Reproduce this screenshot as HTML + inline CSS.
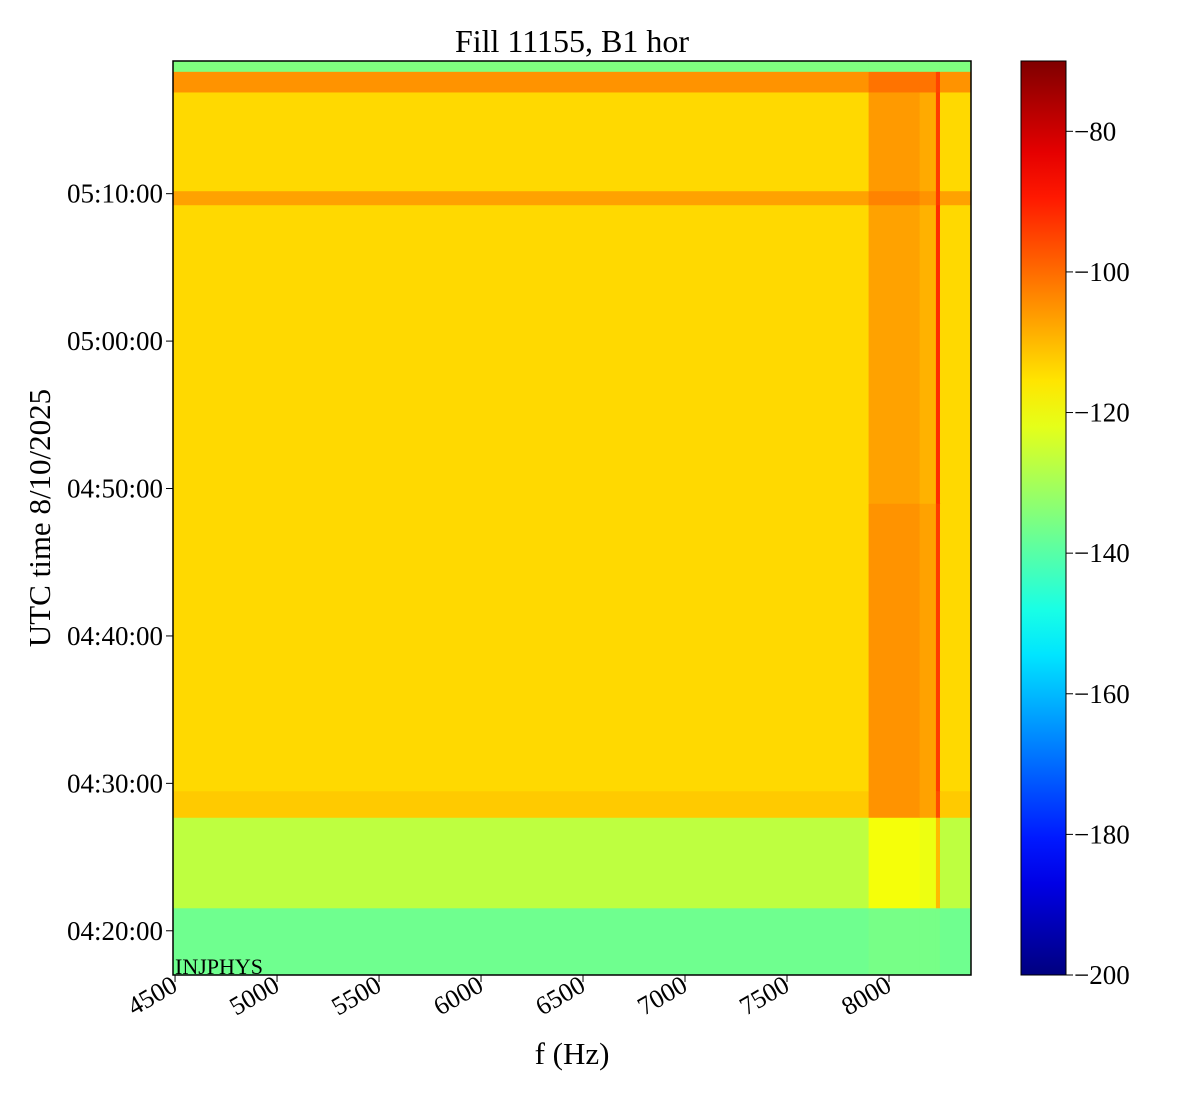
<!DOCTYPE html>
<html><head><meta charset="utf-8"><style>
body{margin:0;background:#fff;}
svg{display:block;font-family:"Liberation Serif",serif;}
</style></head><body>
<svg id="chart" width="1200" height="1100">
<text x="572" y="52" font-size="32" text-anchor="middle">Fill 11155, B1 hor</text>
<g id="cells"></g>
<g id="xaxis"></g>
<g id="yaxis"></g>
<rect x="173" y="61" width="798" height="914" fill="none" stroke="#000" stroke-width="1.5"/>
<text x="175" y="974" font-size="22">INJPHYS</text>
<text x="572" y="1064" font-size="31" text-anchor="middle">f (Hz)</text>
<text transform="translate(50,518) rotate(-90)" font-size="31" text-anchor="middle">UTC time 8/10/2025</text>
<defs><linearGradient id="jet" x1="0" y1="1" x2="0" y2="0"></linearGradient></defs>
<rect x="1021" y="61" width="45" height="914" fill="url(#jet)" stroke="#000" stroke-width="1"/>
<g id="cbaxis"></g>
</svg>
<script>
// frequency band edges (Hz) and time band edges (minutes after 04:00)
const freqEdges=[4490,7900,8150,8230,8250,8402];
const timeEdges=[17,21.56,27.7,29.5,49,69.25,70.2,76.9,78.3,79.0];
// power levels (dB) per time band (rows, bottom->top) and freq band (cols)
const row0=[-137,-136,-136,-136,-137];
const row1=[-127,-120,-121,-110,-127];
const row2=[-112,-105,-107,-96,-112];
const row3=[-114,-105,-107,-94,-114];
const row4=[-114,-107,-109,-92,-114];
const row5=[-107,-103,-105,-94,-107];
const row6=[-114,-106,-108,-94,-114];
const row7=[-105,-101,-101,-95,-105];
const row8=[-135,-135,-135,-135,-135];
const levels=[row0,row1,row2,row3,row4,row5,row6,row7,row8];
const xTicks=[4500,5000,5500,6000,6500,7000,7500,8000];
const yTicks=[20,30,40,50,60,70];
const yTickLabels=["04:20:00","04:30:00","04:40:00","04:50:00","05:00:00","05:10:00"];
const cbTicks=[-80,-100,-120,-140,-160,-180,-200];

const NS="http://www.w3.org/2000/svg";
const X=f=>173+(f-4490)*798/(8402-4490);
const Y=m=>975-(m-17)*914/(79.0-17);
const C=v=>975-(v+200)*914/130;
function jetT(t){t=Math.max(0,Math.min(1,t));
 const r=Math.max(0,Math.min(1,1.5-Math.abs(4*t-3))),g=Math.max(0,Math.min(1,1.5-Math.abs(4*t-2))),b=Math.max(0,Math.min(1,1.5-Math.abs(4*t-1)));
 return `rgb(${r*255|0},${g*255|0},${b*255|0})`;}
const jet=v=>jetT((v+200)/130);
function mk(tag,a,p){const e=document.createElementNS(NS,tag);for(const k in a)e.setAttribute(k,a[k]);p.appendChild(e);return e;}
const grad=document.getElementById('jet');
for(let i=0;i<=20;i++){mk('stop',{offset:i/20,'stop-color':jetT(i/20)},grad);}
const cells=document.getElementById('cells');
levels.forEach((row,i)=>row.forEach((v,j)=>{
 const r=mk('rect',{x:X(freqEdges[j]),y:Y(timeEdges[i+1]),width:X(freqEdges[j+1])-X(freqEdges[j])+0.5,height:Y(timeEdges[i])-Y(timeEdges[i+1])+0.5,fill:jet(v)},cells);
 
 
}));
const xa=document.getElementById('xaxis');
xTicks.forEach(f=>{const x=X(f);
 const l=mk('line',{x1:x,y1:975,x2:x,y2:982,stroke:'#000'},xa);
 
 
 const t=mk('text',{x:x+4,y:990,'font-size':26,'text-anchor':'end',transform:`rotate(-30 ${x+4} 990)`},xa);t.textContent=f;
 
 
});
const ya=document.getElementById('yaxis');
yTicks.forEach((m,i)=>{const y=Y(m);
 const l=mk('line',{x1:166,y1:y,x2:173,y2:y,stroke:'#000'},ya);
 
 
 const t=mk('text',{x:163,y:y+9,'font-size':27,'text-anchor':'end'},ya);t.textContent=yTickLabels[i];
 
 
});
const ca=document.getElementById('cbaxis');
cbTicks.forEach(v=>{const y=C(v);
 const l=mk('line',{x1:1066,y1:y,x2:1073,y2:y,stroke:'#000'},ca);
 
 
 const t=mk('text',{x:1074,y:y+9,'font-size':27},ca);t.textContent='\u2212'+Math.abs(v);
 
 
});
</script>
</body></html>
